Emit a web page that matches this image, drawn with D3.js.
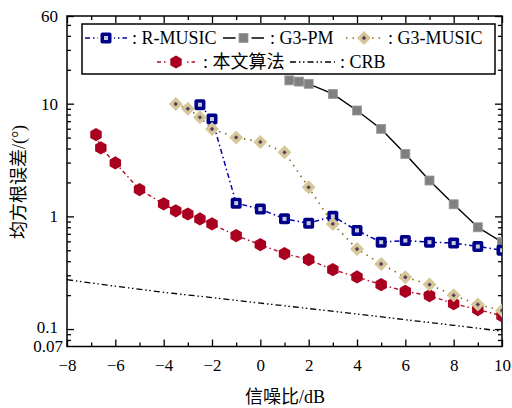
<!DOCTYPE html>
<html lang="zh">
<head>
<meta charset="utf-8">
<script src="https://cdn.jsdelivr.net/npm/d3@7"></script>
<style>
  body { margin: 0; background: #fff; }
  svg { display: block; font-family: "Liberation Serif", "Noto Sans CJK SC", serif; }
</style>
</head>
<body>
<script>
// data
const rmusicX = [-2.5, -2, -1, 0, 1, 2, 3, 4, 5, 6, 7, 8, 9, 10];
const rmusicY = [9.8, 7.3, 1.31, 1.16, 0.95, 0.87, 1.0, 0.75, 0.59, 0.61, 0.59, 0.58, 0.54, 0.5];

const g3pmX = [1.2, 1.6, 2, 3, 4, 5, 6, 7, 8, 9, 10];
const g3pmY = [16.1, 15.7, 15.0, 12.2, 8.7, 5.97, 3.58, 2.08, 1.28, 0.8, 0.59];

const g3musicX = [-3.5, -3, -2.5, -2, -1, 0, 1, 2, 3, 4, 5, 6, 7, 8, 9, 10];
const g3musicY = [9.94, 9.03, 7.56, 5.96, 5.02, 4.57, 3.7, 1.81, 0.857, 0.514, 0.378, 0.288, 0.248, 0.199, 0.165, 0.146];

const oursX = [-6.8, -6.6, -6, -5, -4, -3.5, -3, -2.5, -2, -1, 0, 1, 2, 3, 4, 5, 6, 7, 8, 9, 10];
const oursY = [5.31, 4.05, 2.98, 1.73, 1.29, 1.12, 1.05, 0.949, 0.857, 0.675, 0.561, 0.467, 0.413, 0.337, 0.29, 0.248, 0.216, 0.198, 0.168, 0.149, 0.131];

const crbX = [-8, -6, -4, -2, 0, 2, 4, 6, 8, 10];
const crbY = [0.274, 0.24, 0.212, 0.19, 0.17, 0.152, 0.136, 0.121, 0.108, 0.0957];

const xTicks = [-8, -6, -4, -2, 0, 2, 4, 6, 8, 10];
const yTicks = [60, 10, 1, 0.1];
const yBottomLabel = "0.07";

const W = 512, H = 408;
const plotL = 67, plotR = 502, plotT = 16, plotB = 346.5;

const svg = d3.select("body").append("svg")
  .attr("width", W).attr("height", H);

svg.append("rect").attr("width", W).attr("height", H).attr("fill", "#fff");

const x = d3.scaleLinear().domain([-8, 10]).range([plotL, plotR]);
const y = d3.scaleLog().domain([0.07, 60]).range([plotB, plotT]);

const minus = d => (d < 0 ? "\u2212" + Math.abs(d) : String(d));

// minor y ticks
const yMinor = [];
[0.01, 0.1, 1, 10].forEach(dec => {
  for (let k = 2; k <= 9; k++) {
    const v = +(dec * k).toPrecision(3);
    if (v > 0.07 && v < 60) yMinor.push(v);
  }
});
const xMinor = d3.range(-7, 10, 2);

// clip for data
svg.append("clipPath").attr("id", "plot")
  .append("rect").attr("x", plotL).attr("y", plotT)
  .attr("width", plotR - plotL).attr("height", plotB - plotT);

// axes: ticks point inward
const axisG = svg.append("g").attr("color", "#000");

axisG.append("g").attr("transform", `translate(0,${plotB})`)
  .call(d3.axisBottom(x).tickValues(xTicks).tickSize(-7).tickSizeOuter(0).tickPadding(12).tickFormat(minus));
axisG.append("g").attr("transform", `translate(0,${plotB})`)
  .call(d3.axisBottom(x).tickValues(xMinor).tickSize(-4).tickSizeOuter(0).tickFormat(""));
axisG.append("g").attr("transform", `translate(0,${plotT})`)
  .call(d3.axisTop(x).tickValues(xTicks).tickSize(-7).tickSizeOuter(0).tickFormat(""));
axisG.append("g").attr("transform", `translate(0,${plotT})`)
  .call(d3.axisTop(x).tickValues(xMinor).tickSize(-4).tickSizeOuter(0).tickFormat(""));

const yAxisL = axisG.append("g").attr("transform", `translate(${plotL},0)`)
  .call(d3.axisLeft(y).tickValues(yTicks).tickSize(-7).tickSizeOuter(0).tickPadding(9).tickFormat(d => String(d)));
axisG.append("g").attr("transform", `translate(${plotL},0)`)
  .call(d3.axisLeft(y).tickValues(yMinor).tickSize(-4).tickSizeOuter(0).tickFormat(""));
axisG.append("g").attr("transform", `translate(${plotR},0)`)
  .call(d3.axisRight(y).tickValues(yTicks).tickSize(-7).tickSizeOuter(0).tickFormat(""));
axisG.append("g").attr("transform", `translate(${plotR},0)`)
  .call(d3.axisRight(y).tickValues(yMinor).tickSize(-4).tickSizeOuter(0).tickFormat(""));

axisG.selectAll(".domain").remove();
axisG.selectAll(".tick line").attr("stroke-width", 1.3);

// nudge the 0.1 label up a little so it clears the 0.07 label below it
yAxisL.selectAll(".tick text").filter(d => d === 0.1).attr("y", -2);

axisG.append("text")
  .attr("x", plotL - 4).attr("y", y(0.07) + 1.5)
  .attr("text-anchor", "end").attr("dominant-baseline", "middle")
  .attr("fill", "#000")
  .text(yBottomLabel);

axisG.selectAll("text")
  .attr("font-family", "Liberation Serif")
  .attr("font-size", 17);

svg.append("rect")
  .attr("x", plotL).attr("y", plotT)
  .attr("width", plotR - plotL).attr("height", plotB - plotT)
  .attr("fill", "none").attr("stroke", "#000").attr("stroke-width", 1.5);

// titles
svg.append("text")
  .attr("x", 285).attr("y", 403)
  .attr("text-anchor", "middle").attr("font-size", 18)
  .text("信噪比/dB");
svg.append("text")
  .attr("transform", "translate(25,182) rotate(-90)")
  .attr("text-anchor", "middle").attr("font-size", 18)
  .text("均方根误差/(°)");

// marker drawers
const hexPath = r => {
  const pts = d3.range(6).map(i => {
    const a = Math.PI / 3 * i - Math.PI / 2;
    return [r * Math.cos(a), r * Math.sin(a)];
  });
  return "M" + pts.map(p => p.join(",")).join("L") + "Z";
};

const markers = {
  rmusic(g) {
    g.append("rect").attr("x", -5.5).attr("y", -5.5).attr("width", 11).attr("height", 11)
      .attr("rx", 2).attr("fill", "#000088");
    g.append("rect").attr("x", -2).attr("y", -2).attr("width", 4).attr("height", 4)
      .attr("fill", "#c9cbdc");
  },
  g3pm(g) {
    g.append("rect").attr("x", -4.5).attr("y", -4.5).attr("width", 9).attr("height", 9)
      .attr("fill", "#808080").attr("stroke", "#9a9a9a").attr("stroke-width", 0.8);
  },
  g3music(g) {
    g.append("path").attr("d", "M0,-7L7,0L0,7L-7,0Z").attr("fill", "#d4c799");
    g.append("path").attr("d", "M0,-2.2L2.2,0L0,2.2L-2.2,0Z").attr("fill", "#5c3a5e");
  },
  ours(g) {
    g.append("path").attr("d", hexPath(6.6)).attr("fill", "#a8001e");
  },
  crb() {}
};

const series = [
  {key: "ours", xs: oursX, ys: oursY, color: "#b0102a", dash: "4,3,1.5,3", width: 1.4},
  {key: "crb", xs: crbX, ys: crbY, color: "#000", dash: "6,3,1.5,2.5,1.5,3", width: 1.3},
  {key: "g3pm", xs: g3pmX, ys: g3pmY, color: "#000", dash: null, width: 1.4},
  {key: "rmusic", xs: rmusicX, ys: rmusicY, color: "#0000aa", dash: "5,3,1.5,3", width: 1.5},
  {key: "g3music", xs: g3musicX, ys: g3musicY, color: "#8a6a10", dash: "1.5,5", width: 1.6}
];

const line = d3.line().x(d => x(d[0])).y(d => y(d[1]));
const plot = svg.append("g").attr("clip-path", "url(#plot)");

series.forEach(s => {
  const pts = s.xs.map((v, i) => [v, s.ys[i]]);
  const g = plot.append("g");
  g.append("path").datum(pts).attr("d", line)
    .attr("fill", "none").attr("stroke", s.color)
    .attr("stroke-width", s.width)
    .attr("stroke-dasharray", s.dash);
  g.selectAll("g.m").data(pts).enter().append("g").attr("class", "m")
    .attr("transform", d => `translate(${x(d[0])},${y(d[1])})`)
    .each(function () { markers[s.key](d3.select(this)); });
});

// legend
const legendItems = [
  {key: "rmusic", label: ": R-MUSIC", x0: 85, x1: 127, tx: 132, row: 0},
  {key: "g3pm", label: ": G3-PM", x0: 223, x1: 264, tx: 270, row: 0},
  {key: "g3music", label: ": G3-MUSIC", x0: 346, x1: 382, tx: 388, row: 0},
  {key: "ours", label: ": 本文算法", x0: 157, x1: 195, tx: 203, row: 1},
  {key: "crb", label: ": CRB", x0: 290, x1: 335, tx: 340, row: 1}
];
const rowY = [38, 62];

const lg = svg.append("g");
lg.append("rect").attr("x", 82).attr("y", 24).attr("width", 413).attr("height", 50)
  .attr("fill", "#fff").attr("stroke", "#000").attr("stroke-width", 1.5);

legendItems.forEach(it => {
  const s = series.find(d => d.key === it.key);
  const cy = rowY[it.row];
  lg.append("line").attr("x1", it.x0).attr("x2", it.x1).attr("y1", cy).attr("y2", cy)
    .attr("stroke", s.color).attr("stroke-width", s.width).attr("stroke-dasharray", s.dash);
  const m = lg.append("g").attr("transform", `translate(${(it.x0 + it.x1) / 2},${cy})`);
  if (it.key !== "crb") m.append("rect").attr("x", -8).attr("y", -8).attr("width", 16).attr("height", 16).attr("fill", "#fff");
  markers[it.key](m);
  lg.append("text").attr("x", it.tx).attr("y", cy).attr("dy", "0.35em")
    .attr("font-size", 18).text(it.label);
});
</script>
</body>
</html>
